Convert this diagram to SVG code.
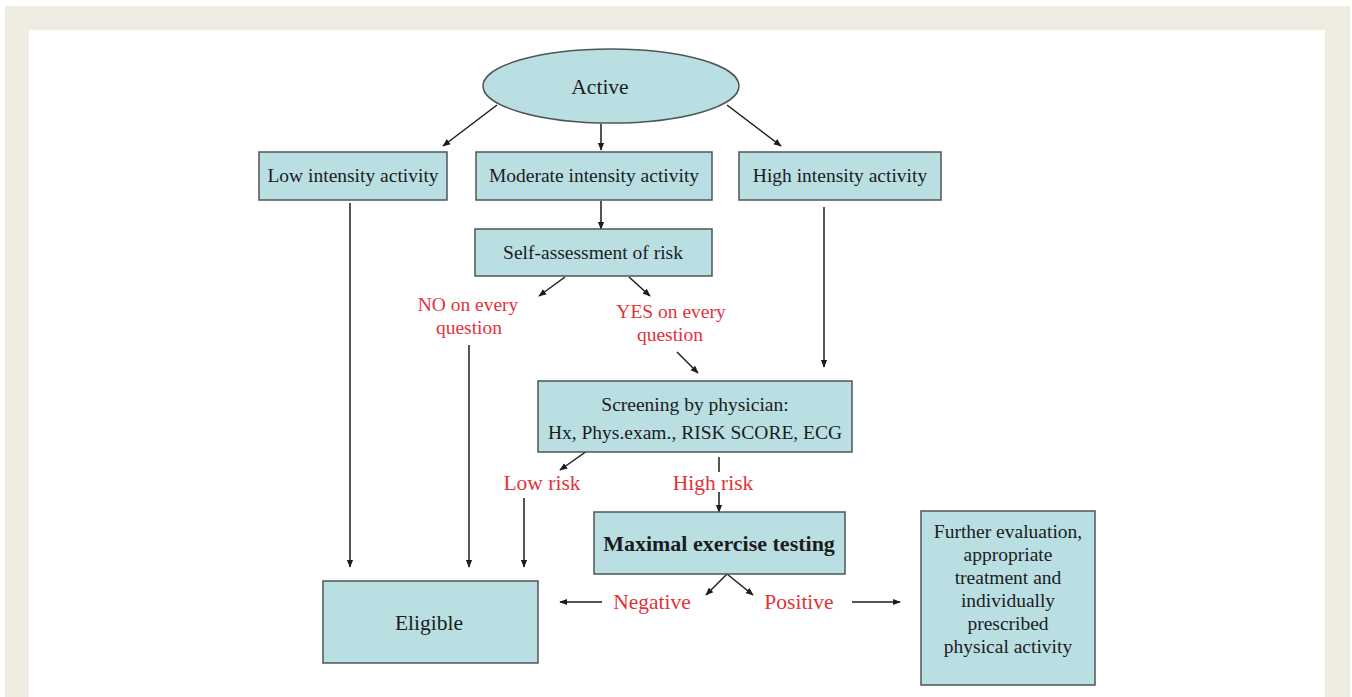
<svg xmlns="http://www.w3.org/2000/svg" width="1352" height="697" viewBox="0 0 1352 697">
<style>
.bx{fill:#b9dfe3;stroke:#4f5557;stroke-width:1.5}
.t{font-family:"Liberation Serif","Times New Roman",serif;font-size:19.5px;fill:#1c1c1c;text-anchor:middle}
.big{font-size:21.5px}
.b{font-weight:bold;font-size:22px}
.r{font-family:"Liberation Serif","Times New Roman",serif;font-size:19.5px;fill:#e2333a;text-anchor:middle}
.r2{font-size:21.5px}
.c{stroke:#1c1c1c;stroke-width:1.5;fill:none}
.a{marker-end:url(#ah)}
</style>
<defs>
<marker id="ah" viewBox="0 0 10 10" refX="9" refY="5" markerWidth="8" markerHeight="8" markerUnits="userSpaceOnUse" orient="auto">
<path d="M0,1 L10,5 L0,9 z" fill="#1c1c1c"/>
</marker>
</defs>
<rect x="0" y="0" width="1352" height="697" fill="#ffffff"/>
<rect x="5" y="6" width="1345" height="691" fill="#efece2"/>
<rect x="29" y="30" width="1296" height="667" fill="#ffffff"/>

<g id="connectors">
<line class="c a" x1="497" y1="105" x2="443" y2="146"/>
<line class="c a" x1="601" y1="124" x2="601" y2="150"/>
<line class="c a" x1="727" y1="105" x2="781" y2="146"/>
<line class="c a" x1="601" y1="201" x2="601" y2="229"/>
<line class="c a" x1="565" y1="277" x2="539" y2="296"/>
<line class="c a" x1="629" y1="277" x2="650" y2="296"/>
<line class="c a" x1="677" y1="352" x2="698" y2="373"/>
<line class="c a" x1="824" y1="207" x2="824" y2="367"/>
<line class="c a" x1="350" y1="203" x2="350" y2="567"/>
<line class="c a" x1="469" y1="345" x2="469" y2="567"/>
<line class="c a" x1="587" y1="451" x2="560" y2="470"/>
<line class="c" x1="719" y1="457" x2="719" y2="472" stroke-width="1"/>
<line class="c a" x1="719" y1="492" x2="719" y2="512"/>
<line class="c a" x1="524" y1="498" x2="524" y2="567"/>
<line class="c a" x1="727" y1="574" x2="706" y2="595"/>
<line class="c a" x1="727" y1="574" x2="753" y2="595"/>
<line class="c a" x1="602" y1="602" x2="560" y2="602"/>
<line class="c a" x1="852" y1="602" x2="900" y2="602"/>
</g>

<g id="active">
<ellipse class="bx" cx="611" cy="86" rx="128" ry="37"/>
<text class="t big" x="600" y="94">Active</text>
</g>
<g id="low">
<rect class="bx" x="259" y="152" width="188" height="48"/>
<text class="t" x="353" y="182">Low intensity activity</text>
</g>
<g id="moderate">
<rect class="bx" x="476" y="152" width="236" height="48"/>
<text class="t" x="594" y="182">Moderate intensity activity</text>
</g>
<g id="high">
<rect class="bx" x="739" y="152" width="202" height="48"/>
<text class="t" x="840" y="182">High intensity activity</text>
</g>
<g id="self">
<rect class="bx" x="475" y="229" width="237" height="47"/>
<text class="t" x="593" y="259">Self-assessment of risk</text>
</g>
<g id="no-label">
<text class="r" x="468" y="311">NO on every</text>
<text class="r" x="469" y="334">question</text>
</g>
<g id="yes-label">
<text class="r" x="671" y="318">YES on every</text>
<text class="r" x="670" y="341">question</text>
</g>
<g id="screening">
<rect class="bx" x="538" y="381" width="314" height="71"/>
<text class="t" x="695" y="411">Screening by physician:</text>
<text class="t" x="695" y="439">Hx, Phys.exam., RISK SCORE, ECG</text>
</g>
<g id="low-risk">
<text class="r r2" x="542" y="490">Low risk</text>
</g>
<g id="high-risk">
<text class="r r2" x="713" y="490">High risk</text>
</g>
<g id="maximal">
<rect class="bx" x="594" y="512" width="251" height="62"/>
<text class="t b" x="719" y="551">Maximal exercise testing</text>
</g>
<g id="negative">
<text class="r r2" x="652" y="609">Negative</text>
</g>
<g id="positive">
<text class="r r2" x="799" y="609">Positive</text>
</g>
<g id="eligible">
<rect class="bx" x="323" y="581" width="215" height="82"/>
<text class="t big" x="429" y="630">Eligible</text>
</g>
<g id="further">
<rect class="bx" x="921" y="511" width="174" height="174"/>
<text class="t" x="1008" y="538">Further evaluation,</text>
<text class="t" x="1008" y="561">appropriate</text>
<text class="t" x="1008" y="584">treatment and</text>
<text class="t" x="1008" y="607">individually</text>
<text class="t" x="1008" y="630">prescribed</text>
<text class="t" x="1008" y="653">physical activity</text>
</g>
</svg>
